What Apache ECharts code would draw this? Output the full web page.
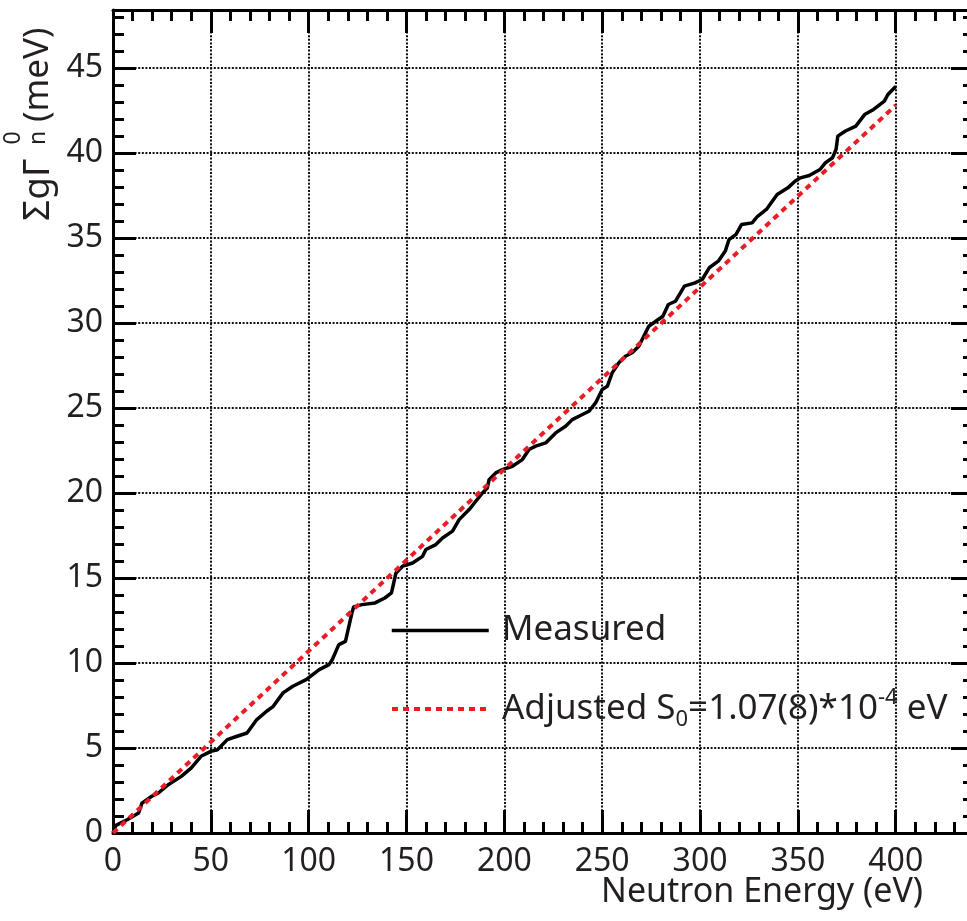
<!DOCTYPE html>
<html>
<head>
<meta charset="utf-8">
<script src="https://cdn.jsdelivr.net/npm/echarts@6/dist/echarts.min.js"></script>
<style>
  html, body { margin: 0; padding: 0; background: #ffffff; }
  #chart { width: 967px; height: 921px; }
</style>
</head>
<body>
<div id="chart"></div>
<script>
// Cumulative reduced neutron widths vs. neutron energy
const energy = [
  0, 1.5, 7.2, 13.1, 14.8, 19.8, 23.2, 28.2, 34.9, 39.9,
  45.0, 50.0, 53.4, 58.4, 63.4, 68.5, 73.5, 78.5, 81.9, 86.9,
  91.9, 98.7, 105.4, 110.4, 112.1, 115.4, 118.8, 122.1, 123.0, 127.2,
  133.9, 138.9, 142.3, 144.6, 148.0, 153.1, 158.2, 159.9, 165.0, 168.4,
  173.5, 176.9, 182.0, 185.4, 188.8, 191.3, 192.2, 195.6, 199.0, 204.1,
  209.2, 212.6, 216.0, 221.1, 226.2, 231.3, 234.7, 238.1, 243.2, 246.6,
  250.0, 252.6, 255.1, 258.5, 261.9, 265.3, 268.7, 273.8, 281.0, 283.8,
  287.4, 292.0, 297.4, 301.1, 304.7, 309.3, 312.9, 314.8, 318.4, 321.2,
  326.6, 329.4, 333.9, 339.4, 344.9, 348.5, 351.3, 355.8, 361.3, 364.0,
  367.7, 369.5, 370.4, 374.1, 379.6, 384.1, 388.7, 394.2, 396.0, 400.0
];
const sumWidth = [
  0, 0.45, 0.78, 1.18, 1.76, 2.16, 2.35, 2.84, 3.33, 3.82,
  4.51, 4.80, 4.90, 5.49, 5.69, 5.88, 6.67, 7.16, 7.45, 8.24,
  8.63, 9.02, 9.61, 9.90, 10.20, 11.08, 11.27, 12.94, 13.30, 13.43,
  13.53, 13.82, 14.12, 15.29, 15.69, 15.88, 16.27, 16.67, 16.96, 17.35,
  17.75, 18.43, 19.02, 19.51, 20.00, 20.29, 20.78, 21.18, 21.37, 21.57,
  21.96, 22.55, 22.75, 22.94, 23.53, 23.92, 24.31, 24.51, 24.80, 25.29,
  26.08, 26.27, 27.06, 27.65, 28.04, 28.24, 28.63, 29.80, 30.39, 31.08,
  31.27, 32.16, 32.35, 32.55, 33.24, 33.63, 34.22, 34.90, 35.20, 35.78,
  35.88, 36.27, 36.67, 37.55, 37.94, 38.33, 38.53, 38.67, 39.02, 39.41,
  39.71, 40.20, 40.98, 41.27, 41.57, 42.25, 42.55, 43.04, 43.43, 43.90
];

// Straight line for the adjusted strength function S0 (in units of 1e-4 eV)
const s0 = 1.07;
const fitEnergy = [0, 400];
const fitSum = fitEnergy.map(function (e) { return s0 * 1e-4 * e * 1000; }); // meV

const xMax = 440;
const yMax = 48.4;

const textColor = '#231f20';
const font = 'Noto Sans';
const gridDots = { type: [2, 1.6], width: 2, color: '#111111' };
const tickStyle = { color: '#000000', width: 3 };
const fitRed = '#ec1c24';

const measuredPts = energy.map(function (e, i) { return [e, sumWidth[i]]; });
const fitPts = fitEnergy.map(function (e, i) { return [e, fitSum[i]]; });

function xAxisCfg(pos, main) {
  return {
    type: 'value', position: pos, min: 0, max: xMax, interval: 50,
    axisLine: { show: true, onZero: false, lineStyle: { color: '#000', width: 3 } },
    axisTick: { show: true, inside: true, length: 23, lineStyle: tickStyle },
    minorTick: { show: true, splitNumber: 5, length: 11, lineStyle: tickStyle },
    axisLabel: {
      show: main, showMaxLabel: false, margin: 13,
      fontSize: 32, fontFamily: font, color: textColor
    },
    splitLine: { show: main, lineStyle: gridDots },
    minorSplitLine: { show: false }
  };
}

function yAxisCfg(pos, step, main) {
  return {
    type: 'value', position: pos, min: 0, max: yMax, interval: step,
    axisLine: { show: step === 5, onZero: false, lineStyle: { color: '#000', width: 3 } },
    axisTick: { show: true, inside: true, length: step === 5 ? 23 : 11, lineStyle: tickStyle },
    axisLabel: {
      show: main, showMaxLabel: false, margin: 10,
      fontSize: 32, fontFamily: font, color: textColor
    },
    splitLine: { show: main, lineStyle: gridDots }
  };
}

// legend keys: line only, the marker is made invisible
const hiddenMarker = { color: 'rgba(0,0,0,0)', borderColor: 'rgba(0,0,0,0)', borderWidth: 0, opacity: 0 };

const chart = echarts.init(document.getElementById('chart'), null, { renderer: 'canvas' });

chart.setOption({
  animation: false,
  backgroundColor: '#ffffff',
  grid: { left: 113, right: -7, top: 10, bottom: 88, outerBoundsMode: 'none', containLabel: false },
  xAxis: [xAxisCfg('bottom', true), xAxisCfg('top', false)],
  yAxis: [
    yAxisCfg('left', 5, true),
    yAxisCfg('left', 1, false),
    yAxisCfg('right', 5, false),
    yAxisCfg('right', 1, false)
  ],
  legend: [
    {
      data: ['Measured'], orient: 'vertical', left: 390, top: 613, padding: 0,
      itemWidth: 97, itemHeight: 2, selectedMode: false,
      itemStyle: hiddenMarker,
      lineStyle: { color: '#000000', width: 3.5 },
      textStyle: { fontSize: 35, fontFamily: font, color: textColor, padding: [0, 0, 0, 8] }
    },
    {
      data: ['Adjusted'], orient: 'vertical', left: 390, top: 687, padding: 0,
      itemWidth: 97, itemHeight: 2, selectedMode: false,
      itemStyle: hiddenMarker,
      lineStyle: { color: fitRed, width: 4, type: [6, 5] },
      formatter: function () {
        return '{m|Adjusted S}{sub|0}{m|=1.07(8)*10}{sup|-4}{m| eV}';
      },
      textStyle: {
        fontSize: 35, fontFamily: font, color: textColor, padding: [0, 0, 0, 8],
        rich: {
          m: { fontSize: 35, fontFamily: font, color: textColor, lineHeight: 44 },
          sub: { fontSize: 22, fontFamily: font, color: textColor, lineHeight: 22, verticalAlign: 'bottom' },
          sup: { fontSize: 22, fontFamily: font, color: textColor, lineHeight: 22, verticalAlign: 'top' }
        }
      }
    }
  ],
  graphic: [
    {
      type: 'text', right: 44, top: 875,
      style: { text: 'Neutron Energy (eV)', fontSize: 34, fontFamily: font, fill: textColor }
    },
    {
      type: 'text', x: 38, y: 221, rotation: Math.PI / 2,
      style: { text: 'ΣgΓ', fontSize: 37, fontFamily: font, fill: textColor,
               align: 'left', verticalAlign: 'middle', textAlign: 'left', textVerticalAlign: 'middle' }
    },
    {
      type: 'text', x: 13, y: 138, rotation: Math.PI / 2,
      style: { text: '0', fontSize: 23, fontFamily: font, fill: textColor,
               align: 'center', verticalAlign: 'middle', textAlign: 'center', textVerticalAlign: 'middle' }
    },
    {
      type: 'text', x: 38, y: 138, rotation: Math.PI / 2,
      style: { text: 'n', fontSize: 23, fontFamily: font, fill: textColor,
               align: 'center', verticalAlign: 'middle', textAlign: 'center', textVerticalAlign: 'middle' }
    },
    {
      type: 'text', x: 38, y: 122, rotation: Math.PI / 2,
      style: { text: '(meV)', fontSize: 35, fontFamily: font, fill: textColor,
               align: 'left', verticalAlign: 'middle', textAlign: 'left', textVerticalAlign: 'middle' }
    }
  ],
  series: [
    {
      name: 'Measured', type: 'line', data: measuredPts,
      xAxisIndex: 0, yAxisIndex: 0,
      showSymbol: false, symbol: 'none',
      lineStyle: { color: '#000000', width: 3.5 },
      itemStyle: { color: '#000000' },
      z: 3
    },
    {
      name: 'Adjusted', type: 'line', data: fitPts,
      xAxisIndex: 0, yAxisIndex: 0,
      showSymbol: false, symbol: 'none',
      lineStyle: { color: fitRed, width: 4, type: [6, 5] },
      itemStyle: { color: fitRed },
      z: 4
    }
  ]
});
</script>
</body>
</html>
